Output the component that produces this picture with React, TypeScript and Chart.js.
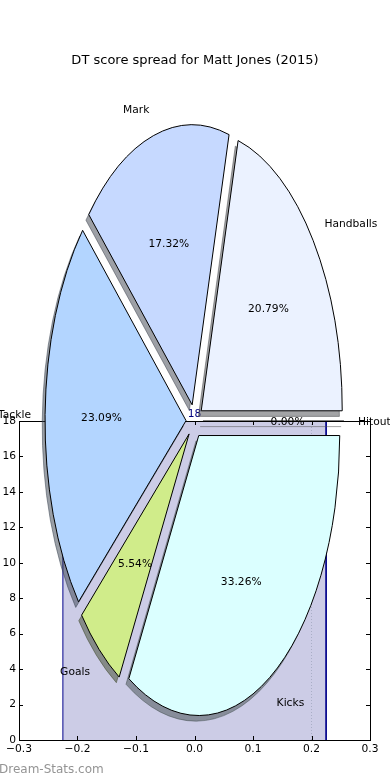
import React, { useEffect, useRef } from 'react';
import { Chart, registerables, ArcElement, PieController } from 'chart.js';

Chart.register(...registerables);

// ---------- data ----------
const SLICE_LABELS = ['Hitout', 'Handballs', 'Mark', 'Tackle', 'Goals', 'Kicks'];
const SLICE_POINTS = [0, 90, 75, 100, 24, 144];
const SLICE_COLORS = ['#ffffff', '#ebf2ff', '#c6d9ff', '#b3d5ff', '#d0ec8a', '#dbffff'];

const BAR_CENTERS = [0];
const BAR_VALUES = [18];
const BAR_WIDTH = 0.45;
const REF_LINE_X = [0.2];

const X_TICKS = [-0.3, -0.2, -0.1, 0, 0.1, 0.2, 0.3];
const Y_TICKS = [0, 2, 4, 6, 8, 10, 12, 14, 16, 18];

const TITLE = 'DT score spread for Matt Jones (2015)';
const WATERMARK = 'Dream-Stats.com';

// ---------- style / geometry ----------
const W = 390;
const H = 780;
const FONT = '"DejaVu Sans"';
const SMALL = 10.7;
const TEXT_NUDGE = 1;
const PIE_RX = 141;
const PIE_RY = 280;
const EXPLODE = 0.06;
const LABEL_DIST = 1.1;
const PCT_DIST = 0.6;
const SHADOW_OFFSET = [-0.02, -0.02];
const EDGE_WIDTH = 1;
const TICK_LEN = 4;

let baseTransform: DOMMatrix | null = null;

class ExplodedArc extends ArcElement {
  static id = 'explodedArc';
  draw(ctx: CanvasRenderingContext2D) {
    const self = this as any;
    const mid = (self.startAngle + self.endAngle) / 2;
    const d = EXPLODE * self.outerRadius;
    ctx.save();
    ctx.translate(Math.cos(mid) * d, Math.sin(mid) * d);
    if (!self.circumference) {
      ctx.beginPath();
      ctx.moveTo(self.x, self.y);
      ctx.lineTo(
        self.x + Math.cos(self.startAngle) * self.outerRadius,
        self.y + Math.sin(self.startAngle) * self.outerRadius
      );
    } else {
      super.draw(ctx);
    }
    ctx.restore();
    const edge = self.options.borderColor;
    if (edge && edge !== 'transparent') {
      ctx.save();
      if (baseTransform) ctx.setTransform(baseTransform);
      ctx.lineWidth = EDGE_WIDTH;
      ctx.strokeStyle = edge;
      ctx.stroke();
      ctx.restore();
    }
  }
}

class ExplodedPieController extends PieController {
  static id = 'explodedPie';
  static defaults = { dataElementType: 'explodedArc' };
}

Chart.register(ExplodedArc as any, ExplodedPieController as any);

function shadowOf(hex: string): string {
  const n = parseInt(hex.slice(1), 16);
  const r = Math.round(((n >> 16) & 255) * 0.3);
  const g = Math.round(((n >> 8) & 255) * 0.3);
  const b = Math.round((n & 255) * 0.3);
  return `rgba(${r},${g},${b},0.5)`;
}

function fmtX(v: number): string {
  const r = Math.abs(v) < 1e-9 ? 0 : v;
  return r.toFixed(1).replace('-', '\u2212');
}

function pieDrawPlugin(shadow: boolean) {
  return {
    id: 'ellipticPie',
    beforeDatasetsDraw(chart: any) {
      const ctx: CanvasRenderingContext2D = chart.ctx;
      baseTransform = ctx.getTransform();
      ctx.save();
      const arc = chart.getDatasetMeta(0).data[0];
      if (!arc) return;
      const cx = arc.x;
      const cy = arc.y;
      const k = PIE_RY / PIE_RX;
      const ox = shadow ? SHADOW_OFFSET[0] * arc.outerRadius : 0;
      const oy = shadow ? -SHADOW_OFFSET[1] * arc.outerRadius * k : 0;
      ctx.translate(cx + ox, cy + oy);
      ctx.scale(1, -k);
      ctx.translate(-cx, -cy);
    },
    afterDatasetsDraw(chart: any) {
      const ctx: CanvasRenderingContext2D = chart.ctx;
      ctx.restore();
      if (shadow) return;
      const meta = chart.getDatasetMeta(0);
      const total = SLICE_POINTS.reduce((a, b) => a + b, 0);
      const k = PIE_RY / PIE_RX;
      ctx.save();
      ctx.fillStyle = '#000000';
      ctx.font = `${SMALL}px ${FONT}`;
      ctx.textBaseline = 'middle';
      meta.data.forEach((el: any, i: number) => {
        const mid = (el.startAngle + el.endAngle) / 2;
        const R = el.outerRadius;
        const c = Math.cos(mid);
        const s = Math.sin(mid);
        const lx = el.x + (LABEL_DIST + EXPLODE) * R * c;
        const ly = el.y - (LABEL_DIST + EXPLODE) * R * k * s + TEXT_NUDGE;
        ctx.textAlign = c > 0 ? 'left' : 'right';
        ctx.fillText(SLICE_LABELS[i], lx, ly);
        const px = el.x + (PCT_DIST + EXPLODE) * R * c;
        const py = el.y - (PCT_DIST + EXPLODE) * R * k * s + TEXT_NUDGE;
        ctx.textAlign = 'center';
        ctx.fillText(((SLICE_POINTS[i] / total) * 100).toFixed(2) + '%', px, py);
      });
      ctx.restore();
    },
  };
}

function pieConfig(shadow: boolean): any {
  const colors = shadow ? SLICE_COLORS.map(shadowOf) : SLICE_COLORS;
  return {
    type: 'explodedPie',
    data: {
      labels: SLICE_LABELS,
      datasets: [
        {
          data: SLICE_POINTS,
          backgroundColor: colors,
          borderColor: shadow ? colors : '#000000',
          borderWidth: 0,
          radius: PIE_RX,
          rotation: 90,
          hoverOffset: 0,
        },
      ],
    },
    options: {
      animation: false,
      responsive: false,
      events: [],
      rotation: 90,
      layout: { padding: { left: 0, right: 1, top: 62, bottom: 0 } },
      plugins: { legend: { display: false }, tooltip: { enabled: false } },
    },
    plugins: [pieDrawPlugin(shadow)],
  };
}

const barDecor = {
  id: 'barDecor',
  afterDraw(chart: any) {
    const ctx: CanvasRenderingContext2D = chart.ctx;
    const a = chart.chartArea;
    const x = chart.scales.x;
    const y = chart.scales.y;
    ctx.save();
    ctx.strokeStyle = '#000000';
    ctx.lineWidth = 1;
    ctx.beginPath();
    x.ticks.forEach((_t: any, i: number) => {
      const px = Math.round(x.getPixelForTick(i)) + 0.5;
      ctx.moveTo(px, a.bottom);
      ctx.lineTo(px, a.bottom - TICK_LEN);
      ctx.moveTo(px, a.top);
      ctx.lineTo(px, a.top + TICK_LEN);
    });
    y.ticks.forEach((_t: any, i: number) => {
      const py = Math.round(y.getPixelForTick(i)) + 0.5;
      ctx.moveTo(a.left, py);
      ctx.lineTo(a.left + TICK_LEN, py);
      ctx.moveTo(a.right, py);
      ctx.lineTo(a.right - TICK_LEN, py);
    });
    ctx.stroke();
    const l = Math.round(a.left) + 0.5;
    const t = Math.round(a.top) + 0.5;
    ctx.strokeRect(l, t, Math.round(a.right) - Math.round(a.left), Math.round(a.bottom) - Math.round(a.top));

    ctx.fillStyle = '#000080';
    ctx.font = `${SMALL}px ${FONT}`;
    ctx.textAlign = 'center';
    ctx.textBaseline = 'alphabetic';
    BAR_CENTERS.forEach((c, i) => {
      ctx.fillText(String(BAR_VALUES[i]), x.getPixelForValue(c), y.getPixelForValue(BAR_VALUES[i]) - 4);
    });

    ctx.fillStyle = '#000000';
    ctx.font = `13px ${FONT}`;
    ctx.textBaseline = 'middle';
    ctx.fillText(TITLE, chart.width / 2, 61);

    ctx.fillStyle = '#949494';
    ctx.font = `12px ${FONT}`;
    ctx.textAlign = 'left';
    ctx.fillText(WATERMARK, -1, 770);
    ctx.restore();
  },
};

function barConfig(): any {
  const barPoints = BAR_CENTERS.flatMap((c, i) => [
    { x: c - BAR_WIDTH / 2, y: 0 },
    { x: c - BAR_WIDTH / 2, y: BAR_VALUES[i] },
    { x: c + BAR_WIDTH / 2, y: BAR_VALUES[i] },
    { x: c + BAR_WIDTH / 2, y: 0 },
  ]);
  const yTop = Y_TICKS[Y_TICKS.length - 1];
  const refPoints = REF_LINE_X.flatMap((v) => [
    { x: v, y: 0 },
    { x: v, y: yTop },
  ]);
  const tickFont = { family: 'DejaVu Sans', size: SMALL };
  return {
    type: 'line',
    data: {
      datasets: [
        {
          data: barPoints,
          borderColor: '#00008b',
          borderWidth: 1,
          backgroundColor: 'rgba(0,0,128,0.2)',
          fill: 'origin',
          pointRadius: 0,
          tension: 0,
          order: 2,
        },
        {
          data: refPoints,
          borderColor: '#a9aec6',
          borderWidth: 1,
          borderDash: [1, 2],
          fill: false,
          pointRadius: 0,
          order: 1,
        },
      ],
    },
    options: {
      animation: false,
      responsive: false,
      events: [],
      layout: { padding: { left: 0, right: 20, top: 421, bottom: 0 } },
      plugins: { legend: { display: false }, tooltip: { enabled: false } },
      scales: {
        x: {
          type: 'linear',
          min: X_TICKS[0],
          max: X_TICKS[X_TICKS.length - 1],
          afterBuildTicks: (s: any) => {
            s.ticks = X_TICKS.map((value) => ({ value }));
          },
          afterFit: (s: any) => {
            s.height = 40;
            s.paddingLeft = 0;
            s.paddingRight = 0;
          },
          grid: { display: false, drawTicks: false },
          border: { display: false },
          ticks: {
            padding: 3,
            color: '#000000',
            font: tickFont,
            maxRotation: 0,
            autoSkip: false,
            callback: (v: number) => fmtX(v),
          },
        },
        y: {
          type: 'linear',
          min: Y_TICKS[0],
          max: yTop,
          afterBuildTicks: (s: any) => {
            s.ticks = Y_TICKS.map((value) => ({ value }));
          },
          afterFit: (s: any) => {
            s.width = 19;
            s.paddingTop = 0;
            s.paddingBottom = 0;
          },
          grid: { display: false, drawTicks: false },
          border: { display: false },
          ticks: {
            padding: 3,
            color: '#000000',
            font: tickFont,
            autoSkip: false,
            callback: (v: number) => String(v),
          },
        },
      },
    },
    plugins: [barDecor],
  };
}

const canvasStyle: React.CSSProperties = {
  position: 'absolute',
  left: 0,
  top: 0,
  width: W + 'px',
  height: H + 'px',
};

export default function App() {
  const barRef = useRef<HTMLCanvasElement>(null);
  const shadowRef = useRef<HTMLCanvasElement>(null);
  const pieRef = useRef<HTMLCanvasElement>(null);

  useEffect(() => {
    const charts: Chart[] = [];
    if (barRef.current) charts.push(new Chart(barRef.current, barConfig()));
    if (shadowRef.current) charts.push(new Chart(shadowRef.current, pieConfig(true)));
    if (pieRef.current) charts.push(new Chart(pieRef.current, pieConfig(false)));
    return () => charts.forEach((c) => c.destroy());
  }, []);

  return (
    <div style={{ position: 'absolute', left: 0, top: 0, width: W, height: H, background: '#ffffff' }}>
      <canvas ref={barRef} width={W} height={H} style={canvasStyle} />
      <canvas ref={shadowRef} width={W} height={H} style={canvasStyle} />
      <canvas ref={pieRef} width={W} height={H} style={canvasStyle} />
    </div>
  );
}
